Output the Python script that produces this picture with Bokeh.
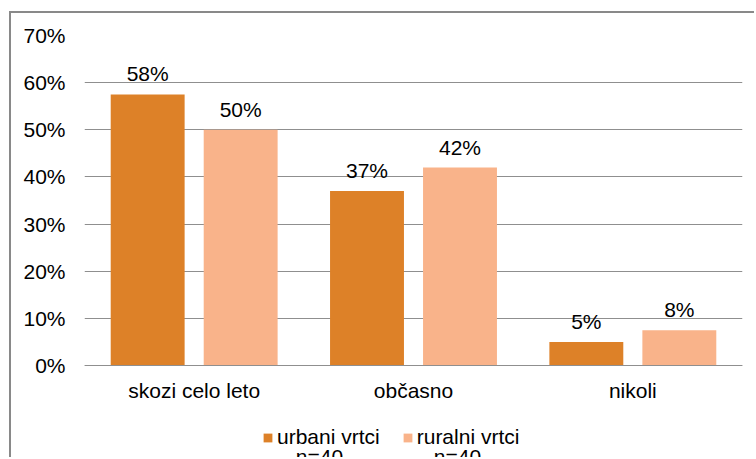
from bokeh.plotting import figure
from bokeh.models import (ColumnDataSource, FactorRange, Range1d, Legend, LegendItem,
                          FixedTicker, PrintfTickFormatter, Label)
from bokeh.transform import dodge
from bokeh.core.properties import value
from bokeh.embed import file_html
from bokeh.resources import INLINE

categories = ["skozi celo leto", "občasno", "nikoli"]
urban = [57.5, 37, 5]
rural = [50, 42, 7.5]
urban_labels = ["58%", "37%", "5%"]
rural_labels = ["50%", "42%", "8%"]
series_names = ["urbani vrtci", "ruralni vrtci"]
series_n = ["n=40", "n=40"]
y_ticks = [0, 10, 20, 30, 40, 50, 60, 70]

FONT = value("Liberation Sans")
FS = "21px"
URBAN_C = "#DD8128"
RURAL_C = "#F9B38A"
GRID_C = "#8f8f8f"

src = ColumnDataSource(dict(cat=categories, urban=urban, rural=rural,
                            ul=urban_labels, rl=rural_labels))

# frame extends below zero so the legend area is inside the frame
y_bottom = -70 * 94 / 330
p = figure(width=745, height=446, x_range=FactorRange(*categories), y_range=Range1d(y_bottom, 70),
           output_backend="svg", toolbar_location=None,
           min_border_left=73, min_border_right=14, min_border_top=22, min_border_bottom=0)
p.styles = {"margin-left": "9px", "margin-top": "11px",
            "border-left": "2px solid #898989", "border-top": "2px solid #898989"}
p.outline_line_color = None
p.background_fill_color = "white"
p.border_fill_color = "white"

off = 0.212
w = 0.337
r1 = p.vbar(x=dodge("cat", -off, range=p.x_range), top="urban", bottom=0, width=w, source=src,
            fill_color=URBAN_C, line_color=None)
r2 = p.vbar(x=dodge("cat", off, range=p.x_range), top="rural", bottom=0, width=w, source=src,
            fill_color=RURAL_C, line_color=None)

p.text(x=dodge("cat", -off, range=p.x_range), y="urban", text="ul", source=src,
       text_align="center", text_baseline="bottom", y_offset=-9,
       text_font=FONT, text_font_size=FS, text_color="#000000")
p.text(x=dodge("cat", off, range=p.x_range), y="rural", text="rl", source=src,
       text_align="center", text_baseline="bottom", y_offset=-9,
       text_font=FONT, text_font_size=FS, text_color="#000000")

# axes
p.yaxis.ticker = FixedTicker(ticks=y_ticks)
p.yaxis.formatter = PrintfTickFormatter(format="%d%%")
p.yaxis.axis_line_color = None
p.yaxis.major_tick_line_color = None
p.yaxis.minor_tick_line_color = None
p.yaxis.major_tick_out = 0
p.yaxis.minor_tick_out = 0
p.yaxis.major_label_standoff = 19
p.yaxis.major_label_text_font = "Liberation Sans"
p.yaxis.major_label_text_font_size = FS
p.yaxis.major_label_text_color = "#000000"

p.xaxis.fixed_location = 0
p.xaxis.axis_line_color = GRID_C
p.xaxis.major_tick_line_color = None
p.xaxis.minor_tick_line_color = None
p.xaxis.major_tick_out = 0
p.xaxis.minor_tick_out = 0
p.xaxis.major_label_standoff = 13
p.xaxis.major_label_text_font = "Liberation Sans"
p.xaxis.major_label_text_font_size = FS
p.xaxis.major_label_text_color = "#000000"

p.xgrid.grid_line_color = None
p.ygrid.grid_line_color = GRID_C
p.ygrid.grid_line_width = 1

legend = Legend(items=[LegendItem(label=series_names[0], renderers=[r1]),
                       LegendItem(label=series_names[1], renderers=[r2])],
                orientation="horizontal", location=(178, 10),
                glyph_width=11, glyph_height=11, label_standoff=4, spacing=22,
                padding=0, margin=0, border_line_color=None, background_fill_alpha=0,
                label_text_font="Liberation Sans", label_text_font_size=FS,
                label_text_color="#000000")
p.add_layout(legend, "center")

# second line of each legend entry (sample size), centred under its label
for n_text, cx in zip(series_n, [235, 373]):
    p.add_layout(Label(x=cx, y=15, x_units="screen", y_units="screen", text=n_text,
                       text_align="center", text_baseline="top",
                       text_font="Liberation Sans", text_font_size=FS, text_color="#000000"))

open("out.html", "w").write(file_html(p, INLINE))
